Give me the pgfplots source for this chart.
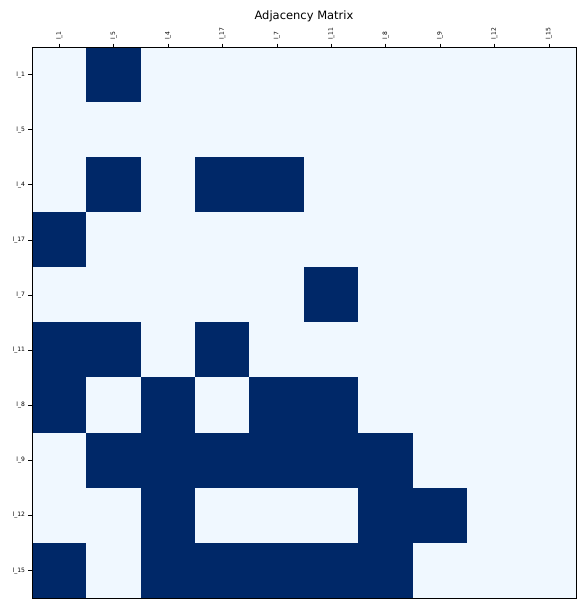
\documentclass[border=0pt]{standalone}
\usepackage{pgfplots}
\pgfplotsset{compat=1.18}
\usepackage{fontspec}
\setmainfont{DejaVu Sans}
\begin{document}
\begin{tikzpicture}
\begin{axis}[
  name=ax,
  scale only axis,
  width=544pt, height=551pt,
  xmin=-0.5, xmax=9.5, ymin=-0.5, ymax=9.5,
  y dir=reverse,
  enlargelimits=false,
  axis on top,
  xtick={0,...,9}, ytick={0,...,9},
  xticklabels={l\_1,l\_5,l\_4,l\_17,l\_7,l\_11,l\_8,l\_9,l\_12,l\_15},
  yticklabels={l\_1,l\_5,l\_4,l\_17,l\_7,l\_11,l\_8,l\_9,l\_12,l\_15},
  xtick pos=right, xticklabel pos=right,
  ytick pos=left,
  tick align=outside,
  major tick length=3.5pt,
  tick style={black, line width=0.6pt},
  xticklabel style={rotate=90, anchor=west, font=\fontsize{6}{7}\selectfont, xshift=0pt},
  yticklabel style={font=\fontsize{6}{7}\selectfont},
  axis line style={black, line width=0.8pt},
  title={Adjacency Matrix},
  title style={at={(axis description cs:0.5,1)}, anchor=base, yshift=22pt, font=\fontsize{11.5}{13}\selectfont},
  colormap={bin}{rgb255=(240,248,255) rgb255=(0,40,104)},
  point meta min=0, point meta max=1,
]
\addplot[matrix plot*, mesh/cols=10, point meta=explicit] table[meta=c] {
x y c
0 0 0
1 0 1
2 0 0
3 0 0
4 0 0
5 0 0
6 0 0
7 0 0
8 0 0
9 0 0
0 1 0
1 1 0
2 1 0
3 1 0
4 1 0
5 1 0
6 1 0
7 1 0
8 1 0
9 1 0
0 2 0
1 2 1
2 2 0
3 2 1
4 2 1
5 2 0
6 2 0
7 2 0
8 2 0
9 2 0
0 3 1
1 3 0
2 3 0
3 3 0
4 3 0
5 3 0
6 3 0
7 3 0
8 3 0
9 3 0
0 4 0
1 4 0
2 4 0
3 4 0
4 4 0
5 4 1
6 4 0
7 4 0
8 4 0
9 4 0
0 5 1
1 5 1
2 5 0
3 5 1
4 5 0
5 5 0
6 5 0
7 5 0
8 5 0
9 5 0
0 6 1
1 6 0
2 6 1
3 6 0
4 6 1
5 6 1
6 6 0
7 6 0
8 6 0
9 6 0
0 7 0
1 7 1
2 7 1
3 7 1
4 7 1
5 7 1
6 7 1
7 7 0
8 7 0
9 7 0
0 8 0
1 8 0
2 8 1
3 8 0
4 8 0
5 8 0
6 8 1
7 8 1
8 8 0
9 8 0
0 9 1
1 9 0
2 9 1
3 9 1
4 9 1
5 9 1
6 9 1
7 9 0
8 9 0
9 9 0
};
\end{axis}
\path ([shift={(-32pt,-1pt)}]ax.south west) rectangle ([shift={(0pt,47pt)}]ax.north east);
\end{tikzpicture}
\end{document}
